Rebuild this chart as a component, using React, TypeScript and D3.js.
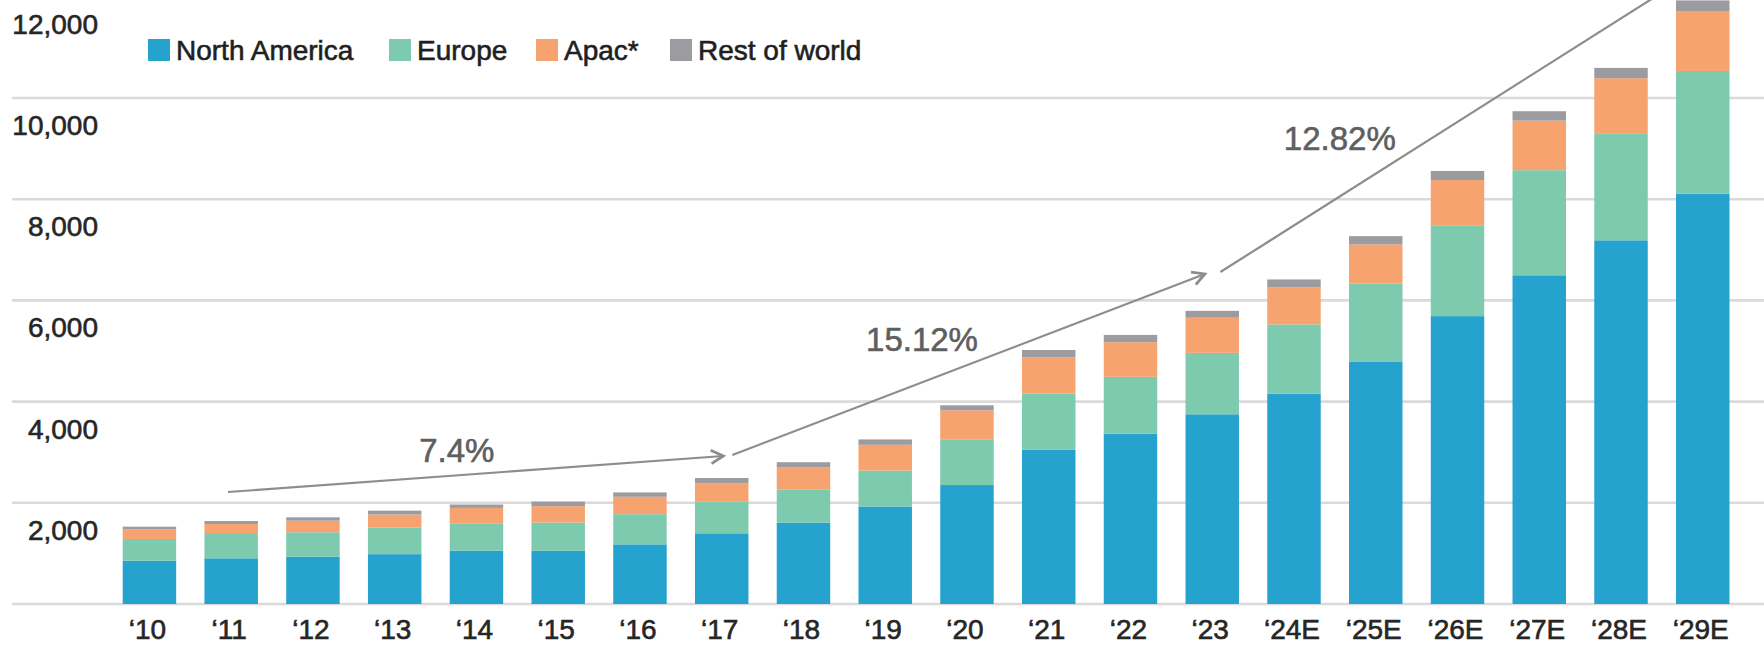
import React from 'react';
import * as d3 from 'd3';

// Yearly market size by region (stacked), actuals '10–'23, estimates '24E–'29E
const years = ['‘10', '‘11', '‘12', '‘13', '‘14', '‘15', '‘16', '‘17', '‘18', '‘19', '‘20', '‘21', '‘22', '‘23', '‘24E', '‘25E', '‘26E', '‘27E', '‘28E', '‘29E'];
const northAmerica = [856, 903, 935, 985, 1054, 1050, 1179, 1397, 1609, 1927, 2351, 3047, 3364, 3749, 4157, 4784, 5689, 6496, 7188, 8109];
const europe = [429, 480, 482, 527, 541, 560, 596, 623, 649, 709, 894, 1112, 1126, 1214, 1369, 1549, 1785, 2078, 2103, 2425];
const apac = [191, 198, 229, 257, 304, 324, 344, 364, 444, 510, 583, 716, 683, 695, 733, 774, 904, 978, 1100, 1185];
const restOfWorld = [52, 59, 67, 76, 67, 90, 86, 106, 100, 106, 99, 145, 145, 136, 155, 163, 180, 187, 204, 210];

const seriesKeys = ['na', 'eu', 'apac', 'row'];
const seriesNames = ['North America', 'Europe', 'Apac*', 'Rest of world'];
const seriesColors = ['#25a2cd', '#7dcaae', '#f6a370', '#9c9ca0'];

const gridValues = [0, 2000, 4000, 6000, 8000, 10000, 12000];
const tickLabels = ['2,000', '4,000', '6,000', '8,000', '10,000', '12,000'];

// Growth-rate trend arrows: [bar index (fractional), value]
const trendLabels = ['7.4%', '15.12%', '12.82%'];
const trendFrom = [[0.96, 2213], [7.13, 2945], [13.1, 6561]];
const trendTo = [[7.02, 2925], [12.91, 6522], [18.9, 12494]];
const trendLabelAt = [[3.76, 2806], [9.45, 5000], [14.56, 8972]];

const W = 1764;
const H = 645;
const FONT = "'Liberation Sans', Arial, Helvetica, sans-serif";
const INK = '#262626';

export default function App() {
  const rows = years.map((y, i) => ({
    year: y,
    na: northAmerica[i],
    eu: europe[i],
    apac: apac[i],
    row: restOfWorld[i],
  }));
  const stacked = d3.stack<any>().keys(seriesKeys)(rows);

  const x = d3.scaleBand<string>().domain(years).range([122.7, 1729.5]).paddingInner(0.346).paddingOuter(0);
  const y = d3.scaleLinear().domain([0, 12000]).range([604, 604 - 12000 * 0.0506]);
  const bw = x.bandwidth();
  const xi = d3
    .scaleLinear()
    .domain([0, years.length - 1])
    .range([(x(years[0]) as number) + bw / 2, (x(years[years.length - 1]) as number) + bw / 2]);

  const legendX = [148, 389, 536, 670];

  const arrowHead = (x1: number, y1: number, x2: number, y2: number) => {
    const a = Math.atan2(y2 - y1, x2 - x1);
    const len = 14;
    const spread = 0.5;
    const p1 = [x2 - len * Math.cos(a - spread), y2 - len * Math.sin(a - spread)];
    const p2 = [x2 - len * Math.cos(a + spread), y2 - len * Math.sin(a + spread)];
    return `M${p1[0]},${p1[1]}L${x2},${y2}L${p2[0]},${p2[1]}`;
  };

  // a hairline outline in the fill colour gives the text a slightly heavier weight
  const textStyle = (fill: string) => ({ fill, stroke: fill, strokeWidth: 0.6, paintOrder: 'stroke' as const });

  return (
    <svg
      width={W}
      height={H}
      viewBox={`0 0 ${W} ${H}`}
      style={{ position: 'absolute', left: 0, top: 0, background: '#fff', display: 'block' }}
    >
      <rect x={0} y={0} width={W} height={H} fill="#fff" />

      {/* horizontal gridlines */}
      {gridValues.map((v) => (
        <line key={v} x1={12} x2={W} y1={y(v)} y2={y(v)} stroke="#dadada" strokeWidth={2.6} />
      ))}

      {/* y tick labels sit just under their gridline */}
      {tickLabels.map((t, i) => (
        <text
          key={t}
          x={98}
          y={y(gridValues[i + 1]) + 37}
          textAnchor="end"
          fontFamily={FONT}
          fontSize={28}
          style={textStyle(INK)}
        >
          {t}
        </text>
      ))}

      {/* stacked bars */}
      {stacked.map((s, si) => (
        <g key={s.key} fill={seriesColors[si]}>
          {s.map((d: any, i: number) => (
            <rect
              key={i}
              x={x(years[i])}
              width={bw}
              y={y(d[1])}
              height={Math.max(0, y(d[0]) - y(d[1]))}
            />
          ))}
        </g>
      ))}

      {/* x labels */}
      {years.map((yr) => (
        <text
          key={yr}
          x={(x(yr) as number) + bw / 2 - 2}
          y={639}
          textAnchor="middle"
          fontFamily={FONT}
          fontSize={28}
          style={textStyle(INK)}
        >
          {yr}
        </text>
      ))}

      {/* growth trend arrows */}
      {trendLabels.map((lab, i) => {
        const x1 = xi(trendFrom[i][0]);
        const y1 = y(trendFrom[i][1]);
        const x2 = xi(trendTo[i][0]);
        const y2 = y(trendTo[i][1]);
        return (
          <g key={lab}>
            <line x1={x1} y1={y1} x2={x2} y2={y2} stroke="#8d8d8d" strokeWidth={2.2} />
            <path d={arrowHead(x1, y1, x2, y2)} fill="none" stroke="#8d8d8d" strokeWidth={2.8} strokeLinejoin="miter" />
            <text
              x={xi(trendLabelAt[i][0])}
              y={y(trendLabelAt[i][1])}
              textAnchor="middle"
              fontFamily={FONT}
              fontSize={33}
              style={textStyle('#5f5f5f')}
            >
              {lab}
            </text>
          </g>
        );
      })}

      {/* legend */}
      {seriesNames.map((n, i) => (
        <g key={n} transform={`translate(${legendX[i]},39)`}>
          <rect x={0} y={0} width={22} height={22} fill={seriesColors[i]} />
          <text x={28} y={21} fontFamily={FONT} fontSize={28} style={textStyle('#1f1f1f')}>
            {n}
          </text>
        </g>
      ))}
    </svg>
  );
}
